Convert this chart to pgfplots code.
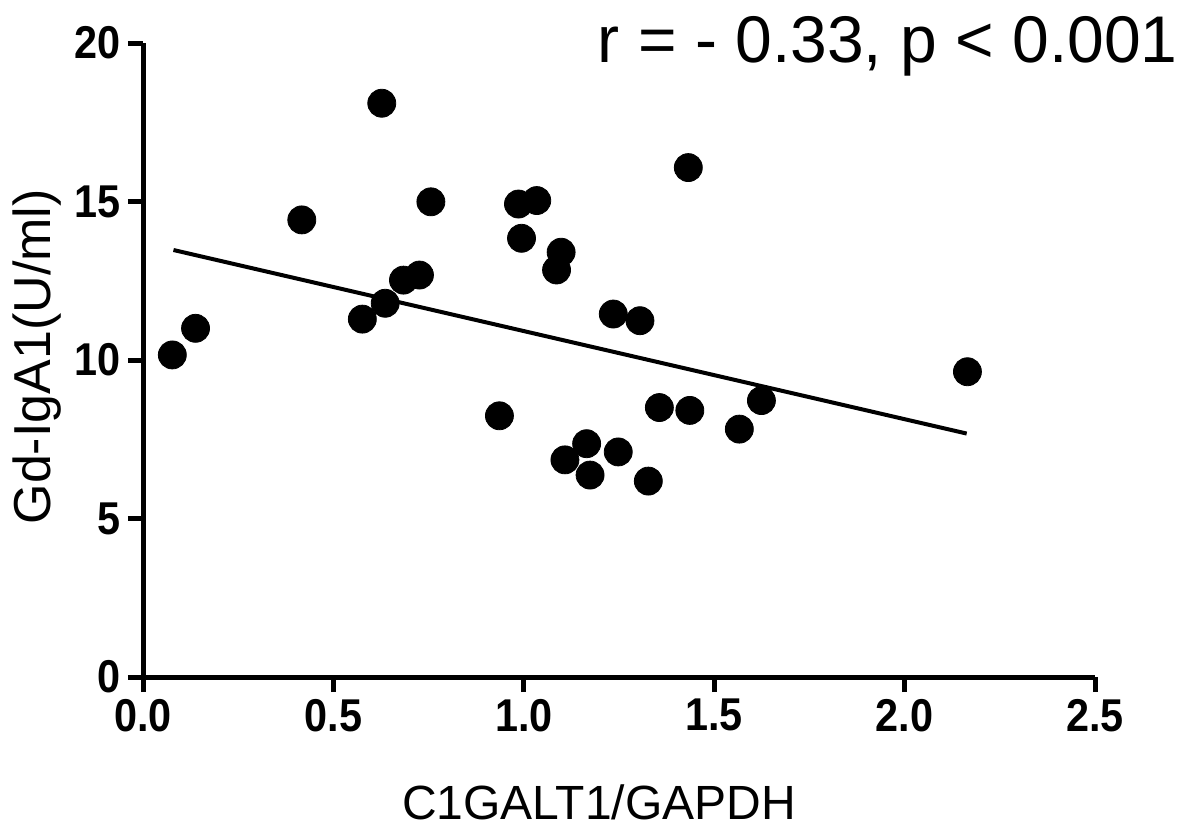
\documentclass[border=0pt]{standalone}
\usepackage{graphicx}
\usepackage{pgfplots}
\pgfplotsset{compat=1.18}
\usepackage{fontspec}
\setmainfont{Liberation Sans}
\begin{document}
\begin{tikzpicture}
\path[use as bounding box] (0,0) rectangle (590.5pt,413.5pt);
\begin{axis}[
  at={(71.5pt,75pt)}, anchor=south west,
  scale only axis, width=476pt, height=317pt,
  xmin=0, xmax=2.5, ymin=0, ymax=20,
  axis lines=left,
  axis line style={line width=2.5pt, -},
  tick align=outside, major tick length=7.5pt,
  tick style={line width=2.5pt, black},
  xtick={0,0.5,1,1.5,2,2.5},
  ytick={0,5,10,15,20},
  xticklabel={\fontsize{23}{23}\selectfont\bfseries\scalebox{0.9}[1]{\pgfmathprintnumber[assume math mode=true,fixed,fixed zerofill,precision=1]{\tick}}},
  yticklabel={\fontsize{23}{23}\selectfont\bfseries\scalebox{0.9}[1]{\pgfmathprintnumber[assume math mode=true]{\tick}}},
  xlabel={C1GALT1/GAPDH},
  ylabel={Gd-IgA1(U/ml)},
  xlabel style={font=\fontsize{24}{24}\selectfont, at={(axis description cs:0.479,0)}, anchor=base, yshift=-71pt, inner sep=0pt},
  ylabel style={font=\fontsize{26}{26}\selectfont, at={(axis description cs:0,0.505)}, anchor=center, yshift=53pt},
  clip=false,
]
\addplot[only marks, mark=*, mark size=7pt, black] coordinates {
(0.077,10.16) (0.138,11.0) (0.417,14.42) (0.576,11.29) (0.627,18.1)
(0.636,11.79) (0.684,12.52) (0.726,12.68) (0.756,14.99) (0.936,8.24)
(0.986,14.92) (0.994,13.84) (1.034,15.03) (1.086,12.84) (1.098,13.4)
(1.108,6.85) (1.165,7.36) (1.174,6.37) (1.235,11.45) (1.248,7.1)
(1.305,11.24) (1.327,6.18) (1.356,8.50) (1.432,16.07) (1.436,8.41)
(1.566,7.82) (1.624,8.72) (2.165,9.63)
};
\addplot[black, line width=2pt] coordinates {(0.08,13.47) (2.163,7.68)};
\end{axis}
\node[anchor=base east, font=\fontsize{33}{33}\selectfont, inner sep=0pt] at (589pt,382.5pt) {r = - 0.33, p < 0.001};
\end{tikzpicture}
\end{document}
